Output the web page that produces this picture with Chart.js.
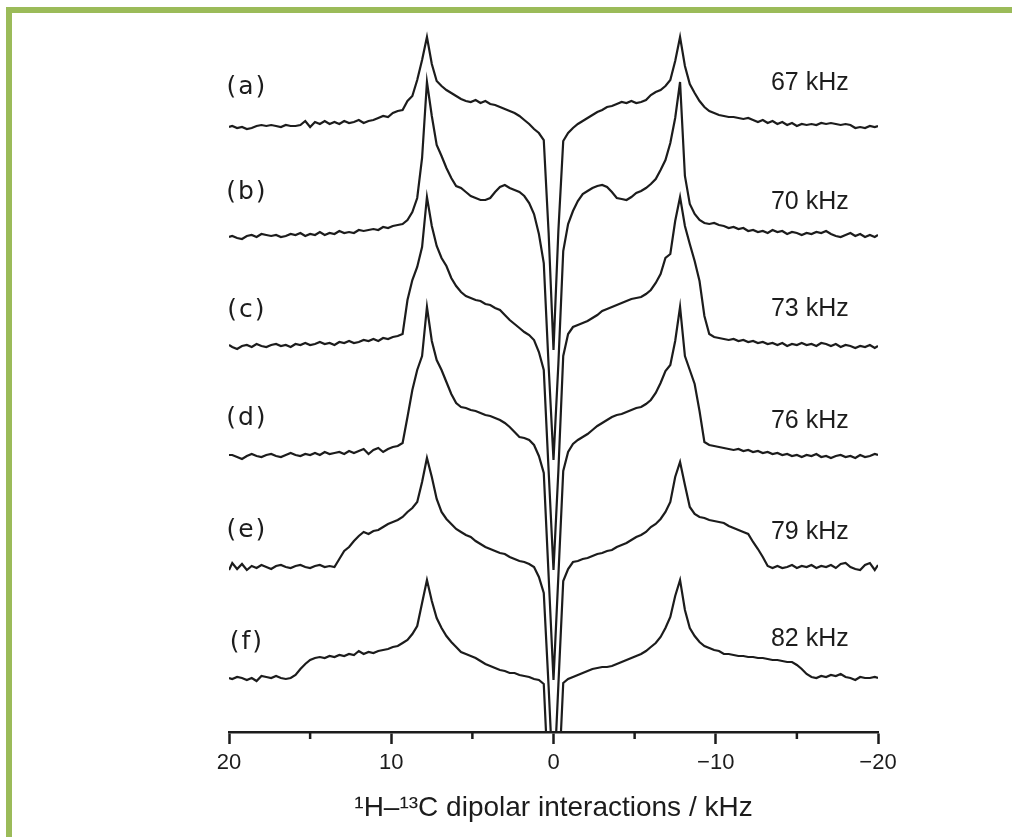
<!DOCTYPE html>
<html>
<head>
<meta charset="utf-8">
<script src="https://cdn.jsdelivr.net/npm/chart.js@4.4.1/dist/chart.umd.min.js"></script>
<style>
  html, body { margin: 0; padding: 0; background: #fff; }
  .frame {
    position: absolute; left: 6px; top: 7px; right: 0; bottom: 0;
    border-top: 6px solid #9bbb59; border-left: 6px solid #9bbb59;
  }
  #wrap { position: absolute; left: 0; top: 0; width: 1012px; height: 837px; }
</style>
</head>
<body>
<div class="frame"></div>
<div id="wrap"><canvas id="spectra"></canvas></div>
<script>
// frequency axis (kHz), shared by all six spectra
const khz = [
  20, 19.8, 19.5, 19.2, 18.9, 18.6, 18.3, 18, 17.7, 17.4,
  17.1, 16.8, 16.5, 16.2, 15.9, 15.6, 15.3, 15, 14.7, 14.4,
  14.1, 13.8, 13.5, 13.2, 12.9, 12.6, 12.3, 12, 11.7, 11.4,
  11.1, 10.8, 10.5, 10.2, 9.9, 9.6, 9.3, 9, 8.7, 8.4,
  8.1, 7.8, 7.5, 7.2, 6.9, 6.6, 6.3, 6, 5.7, 5.4,
  5.1, 4.8, 4.5, 4.2, 3.9, 3.6, 3.3, 3, 2.7, 2.4,
  2.1, 1.8, 1.5, 1.2, 0.9, 0.6, 0.3,
  0,
  -0.3, -0.6, -0.9, -1.2, -1.5, -1.8, -2.1,
  -2.4, -2.7, -3, -3.3, -3.6, -3.9, -4.2, -4.5, -4.8, -5.1,
  -5.4, -5.7, -6, -6.3, -6.6, -6.9, -7.2, -7.5, -7.8, -8.1,
  -8.4, -8.7, -9, -9.3, -9.6, -9.9, -10.2, -10.5, -10.8, -11.1,
  -11.4, -11.7, -12, -12.3, -12.6, -12.9, -13.2, -13.5, -13.8, -14.1,
  -14.4, -14.7, -15, -15.3, -15.6, -15.9, -16.2, -16.5, -16.8, -17.1,
  -17.4, -17.7, -18, -18.3, -18.6, -18.9, -19.2, -19.5, -19.8, -20
];

// intensities (relative to each baseline)
const spec67 = [
  -1, 0, -2, -1, -3, -2, 0, 1, 0, 1,
  0, -1, 1, 0, 0, 1, 5, -1, 4, 2,
  5, 2, 4, 2, 5, 3, 4, 6, 3, 5,
  6, 8, 10, 9, 13, 15, 16, 25, 30, 46,
  66, 89, 62, 45, 40, 36, 33, 30, 27, 25,
  24, 26, 23, 25, 22, 21, 19, 17, 15, 13,
  10, 6, 2, -3, -7, -14, -107,
  -224,
  -105, -15, -7, -2, 2, 5, 8,
  11, 14, 16, 19, 20, 22, 24, 23, 25, 23,
  24, 26, 31, 34, 36, 40, 46, 65, 89, 60,
  42, 33, 25, 19, 15, 13, 11, 10, 9, 9,
  8, 7, 8, 6, 4, 6, 3, 5, 2, 4,
  1, 3, 0, 2, 1, 2, 1, 3, 2, 3,
  2, 1, 2, 1, -2, -1, -2, 0, -1, 0
];
const spec70 = [
  -1, 0, -2, -3, 0, 1, -1, 2, 1, 0,
  1, -1, 0, 2, 1, 3, 0, 2, 1, 4,
  1, 3, 2, 5, 3, 4, 3, 6, 5, 6,
  7, 6, 9, 8, 10, 11, 12, 16, 24, 38,
  78, 154, 120, 91, 80, 68, 58, 50, 48, 44,
  40, 38, 36, 36, 38, 44, 49, 51, 48, 46,
  44, 40, 33, 22, 2, -27, -130,
  -224,
  -128, -15, 12, 25, 35, 42, 45,
  48, 50, 51, 49, 44, 38, 37, 36, 39, 43,
  45, 48, 52, 57, 66, 76, 93, 118, 154, 60,
  32, 22, 16, 13, 12, 13, 11, 10, 8, 9,
  7, 8, 5, 6, 4, 5, 3, 6, 4, 5,
  2, 4, 3, 1, 3, 2, 4, 3, 5, 2,
  0, -1, 1, 3, 0, 2, -1, 1, -1, 1
];
const spec73 = [
  1, -1, -3, 0, 1, -1, 2, 0, -1, 1,
  2, 0, 1, -1, 2, 1, 3, 1, 2, 4,
  2, 3, 1, 4, 3, 5, 3, 4, 6, 5,
  7, 5, 8, 7, 9, 10, 12, 46, 66, 79,
  99, 149, 120, 100, 88, 80, 68, 60, 54, 50,
  48, 46, 45, 42, 41, 38, 36, 31, 26, 22,
  18, 14, 11, 6, -6, -24, -125,
  -224,
  -125, -10, 12, 19, 21, 23, 25,
  28, 31, 35, 37, 39, 41, 43, 45, 47, 48,
  49, 52, 56, 63, 72, 88, 92, 125, 149, 120,
  102, 85, 65, 30, 12, 9, 8, 7, 6, 7,
  5, 6, 4, 5, 3, 4, 2, 3, 1, 3,
  0, 2, 1, 3, 1, 2, 0, 3, 2, 0,
  2, -1, 1, 0, -2, 0, -1, 1, -2, 0
];
const spec76 = [
  1, 1, -1, -3, 0, 2, 0, -1, 1, 2,
  0, -1, 1, 3, 1, 0, 2, 1, 3, 1,
  4, 2, 3, 4, 2, 5, 3, 5, 7, 2,
  6, 8, 4, 7, 9, 10, 13, 39, 66, 86,
  100, 149, 115, 96, 86, 74, 62, 53, 49, 48,
  46, 45, 43, 41, 40, 38, 36, 33, 29, 24,
  19, 18, 16, 11, 0, -17, -120,
  -224,
  -120, -15, 4, 12, 16, 19, 22,
  26, 30, 33, 36, 39, 41, 42, 44, 46, 48,
  49, 52, 56, 63, 73, 85, 91, 115, 149, 100,
  86, 72, 45, 14, 11, 10, 9, 8, 7, 6,
  7, 5, 6, 4, 5, 3, 4, 2, 3, 1,
  2, 0, 1, -1, 1, 0, 2, -1, 0, -2,
  0, 1, -1, 0, -2, 1, -1, 0, 2, 1
];
const spec79 = [
  -3, 4, -2, 3, -3, 1, -1, 2, 0, -2,
  1, 2, 0, -1, 1, 2, 0, -1, 1, 2,
  0, 1, 0, 8, 16, 20, 26, 31, 35, 33,
  36, 37, 40, 43, 45, 47, 50, 55, 59, 65,
  85, 109, 90, 68, 55, 48, 43, 38, 35, 32,
  30, 26, 23, 20, 18, 16, 14, 13, 10, 8,
  6, 5, 3, 0, -10, -26, -120,
  -224,
  -118, -14, -2, 5, 6, 8, 9,
  11, 13, 14, 16, 17, 20, 22, 24, 27, 30,
  32, 35, 40, 43, 48, 55, 65, 90, 105, 82,
  60, 53, 50, 49, 47, 46, 45, 44, 41, 39,
  37, 35, 33, 25, 18, 10, 1, -1, 1, -1,
  0, 2, -1, 1, 0, 2, -1, 1, 0, 2,
  -1, 3, 4, 0, -2, -3, 2, 4, -3, 2
];
const spec82 = [
  0, -1, 1, 0, -2, 0, -3, 2, 1, 0,
  2, 0, -1, 0, 3, 9, 14, 18, 20, 21,
  20, 22, 21, 23, 22, 24, 23, 27, 24, 26,
  25, 27, 28, 29, 31, 32, 35, 38, 44, 52,
  75, 98, 77, 60, 50, 42, 36, 31, 26, 24,
  22, 20, 17, 14, 12, 10, 8, 7, 5, 5,
  3, 2, 1, -1, -2, -6, -110,
  -224,
  -110, -5, -1, 1, 3, 5, 7,
  9, 10, 11, 11, 12, 14, 16, 18, 20, 22,
  24, 27, 31, 35, 41, 50, 61, 82, 98, 68,
  50, 42, 36, 32, 30, 28, 27, 24, 24, 23,
  22, 22, 21, 21, 20, 20, 19, 18, 18, 17,
  16, 16, 13, 9, 4, 1, 0, 2, 1, 3,
  2, 4, 1, 0, -2, 1, 0, 0, 1, 0
];

const series = [spec67, spec70, spec73, spec76, spec79, spec82];
const panelLabels = ["(a)", "(b)", "(c)", "(d)", "(e)", "(f)"];
const fieldLabels = ["67 kHz", "70 kHz", "73 kHz", "76 kHz", "79 kHz", "82 kHz"];
const majorTicks = [20, 10, 0, -10, -20];
const minorTicks = [15, 5, -5, -15];

// stacking: baseline of each trace in y units
const offsets = [606, 496, 386, 276, 165, 54];
const leftRise = [39, 44, 36, 38, 37, 36];
const rightRise = [43, 34, 37, 35, 35, 39];

const INK = "#1c1c1c";

const datasets = series.map((s, j) => ({
  data: khz.map((x, i) => ({ x: x, y: s[i] + offsets[j] })),
  borderColor: INK,
  borderWidth: 2.2,
  pointRadius: 0,
  tension: 0,
  fill: false
}));

function fmtTick(v) {
  if (v < 0) return "\u2212" + Math.abs(v);
  return String(v);
}

const minorTickPlugin = {
  id: "minorTicks",
  afterDraw(chart) {
    const xs = chart.scales.x;
    const ctx = chart.ctx;
    const y0 = chart.chartArea.bottom;
    ctx.save();
    ctx.strokeStyle = INK;
    ctx.lineWidth = 2.5;
    minorTicks.forEach(v => {
      const x = xs.getPixelForValue(v);
      ctx.beginPath();
      ctx.moveTo(x, y0);
      ctx.lineTo(x, y0 + 7);
      ctx.stroke();
    });
    ctx.restore();
  }
};

const traceLabelPlugin = {
  id: "traceLabels",
  afterDraw(chart) {
    const xs = chart.scales.x, ys = chart.scales.y;
    const ctx = chart.ctx;
    ctx.save();
    ctx.fillStyle = INK;
    ctx.textBaseline = "middle";
    ctx.textAlign = "center";
    panelLabels.forEach((t, j) => {
      ctx.font = '25px "DejaVu Sans", sans-serif';
      ctx.letterSpacing = "2px";
      ctx.fillText(t, xs.getPixelForValue(18.9), ys.getPixelForValue(offsets[j] + leftRise[j]));
    });
    ctx.letterSpacing = "0px";
    fieldLabels.forEach((t, j) => {
      ctx.font = '25px "Liberation Sans", Arial, sans-serif';
      ctx.fillText(t, xs.getPixelForValue(-15.8), ys.getPixelForValue(offsets[j] + rightRise[j]));
    });
    ctx.restore();
  }
};

new Chart(document.getElementById("spectra"), {
  type: "line",
  data: { datasets: datasets },
  plugins: [minorTickPlugin, traceLabelPlugin],
  options: {
    responsive: true,
    maintainAspectRatio: false,
    animation: false,
    layout: { padding: { left: 229, right: 134, top: 20, bottom: 0 } },
    plugins: { legend: { display: false }, tooltip: { enabled: false } },
    scales: {
      x: {
        type: "linear",
        reverse: true,
        min: -20,
        max: 20,
        afterBuildTicks: s => { s.ticks = majorTicks.map(v => ({ value: v })); },
        afterFit: s => { s.height = 105; },
        ticks: {
          autoSkip: false,
          maxRotation: 0,
          padding: 6,
          color: INK,
          font: { family: '"Liberation Sans", Arial, sans-serif', size: 22 },
          callback: fmtTick
        },
        grid: { drawOnChartArea: false, drawTicks: true, tickLength: 12, tickWidth: 2.5, tickColor: INK },
        border: { display: true, color: INK, width: 2.5 },
        title: {
          display: true,
          text: "\u00B9H\u2013\u00B9\u00B3C dipolar interactions / kHz",
          color: INK,
          font: { family: '"Liberation Sans", Arial, sans-serif', size: 28 },
          padding: { top: 0, bottom: 12 }
        }
      },
      y: { display: false, min: 0, max: 712 }
    }
  }
});
</script>
</body>
</html>
